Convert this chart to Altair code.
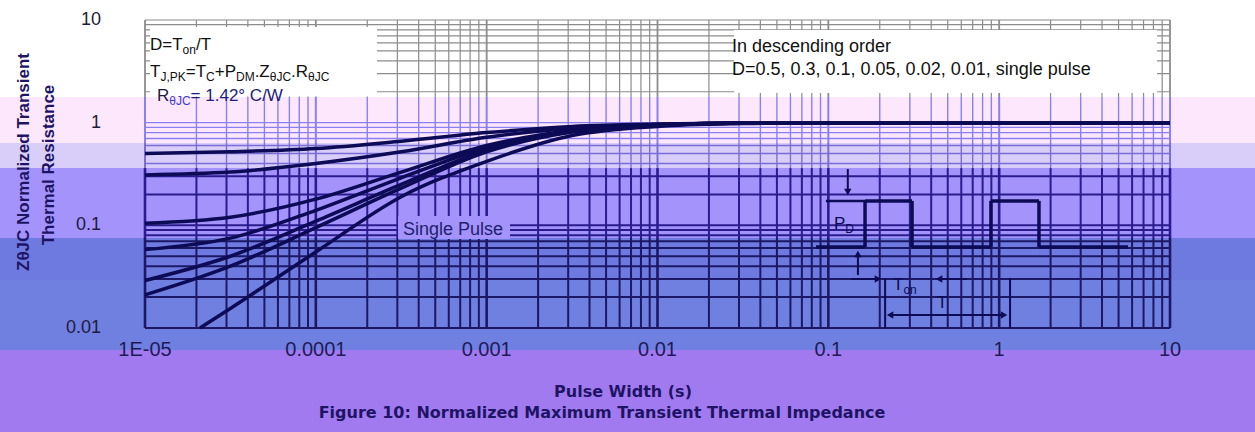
import math
import altair as alt
import pandas as pd

# ---------------- layout ----------------
W, H = 1025, 308
LEFT, TOP = 145, 20

# ---------------- axis ticks ----------------
X_TICKS = [1e-5, 1e-4, 1e-3, 1e-2, 1e-1, 1, 10]
X_TICK_LABELS = ["1E-05", "0.0001", "0.001", "0.01", "0.1", "1", "10"]
Y_TICKS = [0.01, 0.1, 1, 10]
Y_TICK_LABELS = ["0.01", "0.1", "1", "10"]

# ---------------- curves ----------------
PULSE_WIDTH = [1e-5, 3.16e-5, 1e-4, 3.16e-4, 1e-3, 3.16e-3, 1e-2, 3.16e-2, 0.1, 1, 10]
D_050 = [0.50, 0.52, 0.56, 0.66, 0.80, 0.92, 0.97, 0.99, 1.0, 1.0, 1.0]
D_030 = [0.31, 0.33, 0.40, 0.52, 0.72, 0.88, 0.96, 0.99, 1.0, 1.0, 1.0]
D_010 = [0.105, 0.12, 0.18, 0.33, 0.60, 0.84, 0.95, 0.99, 1.0, 1.0, 1.0]
D_005 = [0.058, 0.075, 0.14, 0.29, 0.57, 0.83, 0.95, 0.99, 1.0, 1.0, 1.0]
D_002 = [0.029, 0.05, 0.11, 0.25, 0.54, 0.82, 0.94, 0.99, 1.0, 1.0, 1.0]
D_001 = [0.021, 0.04, 0.095, 0.23, 0.52, 0.81, 0.94, 0.99, 1.0, 1.0, 1.0]
SINGLE_X = [2.1e-5, 3.16e-5, 1e-4, 3.16e-4, 1e-3, 3.16e-3, 1e-2, 3.16e-2, 0.1, 1, 10]
SINGLE = [0.01, 0.0155, 0.055, 0.19, 0.42, 0.75, 0.92, 0.98, 1.0, 1.0, 1.0]
SERIES = ["D=0.5", "D=0.3", "D=0.1", "D=0.05", "D=0.02", "D=0.01", "single pulse"]

# ---------------- background bands (y edges in data units) ----------------
BAND_TOP = [1.78, 0.634, 0.361, 0.0753, 0.0293, 0.00611]
BAND_BOTTOM = [0.634, 0.361, 0.0753, 0.0293, 0.00611, 0.0003]
BAND_COLORS = ["#FDE7FD", "#D9CEFA", "#A393FB", "#6E7ADF", "#7080E1", "#A27AEF"]

# grid colour per band inside the plot
GRID_EDGES = [10, 1.78, 0.634, 0.361, 0.0753, 0.0293, 0.01]
GRID_COLORS = ["#8c8c8c", "#8a80f0", "#7a6ed6", "#2a1c8e", "#1c1866", "#1c1866"]
GRID_WIDTHS = [1.2, 1.4, 1.4, 2.0, 2.0, 2.0]

NAVY = "#0d0b55"

# ---------------- build tables ----------------
rows = []
for name, xs, ys in zip(SERIES,
                        [PULSE_WIDTH] * 6 + [SINGLE_X],
                        [D_050, D_030, D_010, D_005, D_002, D_001, SINGLE]):
    for i, (xv, yv) in enumerate(zip(xs, ys)):
        rows.append({"series": name, "x": xv, "y": yv, "o": i})
curves = pd.DataFrame(rows)

bands = pd.DataFrame({"x1": 1e-7, "x2": 1e3, "y1": BAND_BOTTOM, "y2": BAND_TOP, "c": BAND_COLORS})

xg = [m * 10.0 ** k for k in range(-5, 1) for m in range(1, 10)] + [10.0]
yg = [m * 10.0 ** k for k in range(-2, 1) for m in range(1, 10)] + [10.0]

vrows = []
for xv in xg:
    major = abs(round(math.log10(xv)) - math.log10(xv)) < 1e-9
    for i in range(len(GRID_COLORS)):
        vrows.append({"x": xv, "y1": GRID_EDGES[i + 1], "y2": GRID_EDGES[i],
                      "c": GRID_COLORS[i], "w": GRID_WIDTHS[i] + (0.6 if major else 0)})
vgrid = pd.DataFrame(vrows)

hrows = []
for yv in yg:
    idx = 0
    for i in range(len(GRID_COLORS)):
        if GRID_EDGES[i + 1] <= yv <= GRID_EDGES[i]:
            idx = i
            break
    hrows.append({"y": yv, "x1": 1e-5, "x2": 10.0, "c": GRID_COLORS[idx], "w": GRID_WIDTHS[idx]})
hgrid = pd.DataFrame(hrows)

# white boxes behind the notes, and backing for the "Single Pulse" label
BOX_X1 = [1.07e-5, 0.0281, 3.03e-4]
BOX_X2 = [2.28e-4, 8.4, 1.37e-3]
BOX_Y1 = [1.8, 1.95, 0.0736]
BOX_Y2 = [8.55, 8.0, 0.123]
BOX_C = ["#ffffff", "#ffffff", "#A393FB"]
boxes = pd.DataFrame({"x1": BOX_X1, "x2": BOX_X2, "y1": BOX_Y1, "y2": BOX_Y2, "c": BOX_C})

# pulse diagram segments (data units)
SEG_X1 = [0.0968, 0.130, 0.164, 0.164, 0.309, 0.895, 0.895, 1.71, 0.0847, 0.309, 1.71,
          0.149, 0.136, 0.649, 0.215, 1.158, 0.23]
SEG_Y1 = [0.173, 0.354, 0.0615, 0.173, 0.173, 0.0615, 0.173, 0.173, 0.0615, 0.0615, 0.0615,
          0.0328, 0.030, 0.030, 0.0307, 0.0307, 0.0134]
SEG_X2 = [0.164, 0.130, 0.164, 0.309, 0.309, 0.895, 1.71, 1.71, 0.164, 0.895, 5.68,
          0.149, 0.19, 0.456, 0.215, 1.158, 1.067]
SEG_Y2 = [0.173, 0.221, 0.173, 0.173, 0.0615, 0.173, 0.173, 0.0615, 0.0615, 0.0615, 0.0615,
          0.050, 0.030, 0.030, 0.01, 0.01, 0.0134]
SEG_W = [2.5, 2, 3.5, 3.5, 3.5, 3.5, 3.5, 3.5, 3.5, 3.5, 3.5, 2, 2, 2, 2, 2, 2]
segs = pd.DataFrame({"x1": SEG_X1, "y1": SEG_Y1, "x2": SEG_X2, "y2": SEG_Y2, "w": SEG_W})

HEAD_X = [0.130, 0.149, 0.195, 0.445, 0.23, 1.067]
HEAD_Y = [0.211, 0.0526, 0.030, 0.030, 0.0134, 0.0134]
HEAD_SHAPE = ["triangle-down", "triangle-up", "triangle-right", "triangle-left",
              "triangle-left", "triangle-right"]
heads = pd.DataFrame({"x": HEAD_X, "y": HEAD_Y, "s": HEAD_SHAPE})

xlabels = pd.DataFrame({"v": X_TICKS, "t": X_TICK_LABELS})
ylabels = pd.DataFrame({"v": Y_TICKS, "t": Y_TICK_LABELS})

# ---------------- rich text (pixel annotations) ----------------
AW = {" ": 278, ".": 278, ",": 278, "/": 278, "=": 584, "+": 584, "\u00b0": 400,
      "C": 722, "D": 722, "J": 500, "K": 667, "M": 833, "P": 667, "R": 722, "T": 611,
      "W": 944, "Z": 611, "n": 556, "o": 556, "\u03b8": 556, "1": 556, "4": 556, "2": 556}


def tw(s, size):
    return sum(AW.get(ch, 556) for ch in s) * size / 1000.0


text_rows = []


def rich(pieces, x0, y0, size, sub, colors):
    x = x0
    for (s, is_sub), col in zip(pieces, colors):
        fs = sub if is_sub else size
        text_rows.append({"t": s, "px": x - LEFT, "py": y0 + (4 if is_sub else 0) - TOP,
                          "fs": fs, "c": col})
        x += tw(s, fs)


BLK = "#111111"
rich([("D=T", False), ("on", True), ("/T", False)], 150, 50, 17, 12, [BLK] * 3)
rich([("T", False), ("J,PK", True), ("=T", False), ("C", True), ("+P", False), ("DM", True),
      (".Z", False), ("\u03b8JC", True), (".R", False), ("\u03b8JC", True)], 150, 77, 17, 12,
     [BLK] * 10)
rich([("R", False), ("\u03b8JC", True), ("= 1.42\u00b0   C/W", False)], 157, 101, 17, 12,
     ["#1a1a40", "#3c3cd2", "#1e1e78"])
rich([("In descending order", False)], 732, 52, 18, 12, [BLK])
rich([("D=0.5, 0.3, 0.1, 0.05, 0.02, 0.01, single pulse", False)], 732, 75, 18, 12, [BLK])
rich([("Single Pulse", False)], 403, 235, 18, 12, ["#221e6e"])
rich([("P", False), ("D", True)], 834, 229, 17, 12, [NAVY, NAVY])
rich([("T", False), ("on", True)], 893, 290, 17, 12, [NAVY, NAVY])
rich([("T", False)], 937, 308, 17, 12, [NAVY])
texts = pd.DataFrame(text_rows)

TITLE_X = "Pulse Width (s)"
CAPTION = "Figure 10: Normalized Maximum Transient Thermal Impedance"
Y_TITLE = ["Z\u03b8JC Normalized Transient", "Thermal Resistance"]
bold_texts = pd.DataFrame({"t": [TITLE_X], "px": [623 - LEFT], "py": [397 - TOP]})
caption = pd.DataFrame({"t": [CAPTION], "px": [602 - LEFT], "py": [418 - TOP]})
ytitle = pd.DataFrame({"t": Y_TITLE, "px": [24 - LEFT, 49 - LEFT], "py": [162 - TOP, 165 - TOP]})

# ---------------- scales ----------------
XS = alt.Scale(type="log", domain=[1e-5, 10])
YS = alt.Scale(type="log", domain=[0.01, 10])

band_layer = alt.Chart(bands).mark_rect().encode(
    x=alt.X("x1:Q", scale=XS, axis=None), x2="x2",
    y=alt.Y("y1:Q", scale=YS, axis=None), y2="y2",
    color=alt.Color("c:N", scale=None))

vgrid_layer = alt.Chart(vgrid).mark_rule().encode(
    x=alt.X("x:Q", scale=XS, axis=None),
    y=alt.Y("y1:Q", scale=YS, axis=None), y2="y2",
    color=alt.Color("c:N", scale=None), size=alt.Size("w:Q", scale=None))

hgrid_layer = alt.Chart(hgrid).mark_rule().encode(
    y=alt.Y("y:Q", scale=YS, axis=None),
    x=alt.X("x1:Q", scale=XS, axis=None), x2="x2",
    color=alt.Color("c:N", scale=None), size=alt.Size("w:Q", scale=None))

box_layer = alt.Chart(boxes).mark_rect().encode(
    x=alt.X("x1:Q", scale=XS, axis=None), x2="x2",
    y=alt.Y("y1:Q", scale=YS, axis=None), y2="y2",
    color=alt.Color("c:N", scale=None))

curve_layer = alt.Chart(curves).mark_line(
    interpolate="monotone", strokeWidth=3.5, color=NAVY).encode(
    x=alt.X("x:Q", scale=XS, axis=None),
    y=alt.Y("y:Q", scale=YS, axis=None),
    detail="series:N", order="o:Q")

seg_layer = alt.Chart(segs).mark_rule(color=NAVY).encode(
    x=alt.X("x1:Q", scale=XS, axis=None), x2="x2",
    y=alt.Y("y1:Q", scale=YS, axis=None), y2="y2",
    size=alt.Size("w:Q", scale=None))

head_layer = alt.Chart(heads).mark_point(filled=True, opacity=1, color=NAVY, size=55).encode(
    x=alt.X("x:Q", scale=XS, axis=None),
    y=alt.Y("y:Q", scale=YS, axis=None),
    shape=alt.Shape("s:N", scale=None))

xlabel_layer = alt.Chart(xlabels).mark_text(
    align="center", baseline="alphabetic", font="Liberation Sans", fontSize=20,
    color="#1e1a5a").encode(
    x=alt.X("v:Q", scale=XS, axis=None), y=alt.value(H + 28), text="t:N")

ylabel_layer = alt.Chart(ylabels).mark_text(
    align="right", baseline="middle", font="Liberation Sans", fontSize=18,
    color="#1e1a40").encode(
    y=alt.Y("v:Q", scale=YS, axis=None), x=alt.value(-44), text="t:N")

text_layer = alt.Chart(texts).mark_text(
    align="left", baseline="alphabetic", font="Liberation Sans").encode(
    x=alt.X("px:Q", scale=None), y=alt.Y("py:Q", scale=None), text="t:N",
    size=alt.Size("fs:Q", scale=None), color=alt.Color("c:N", scale=None))

xtitle_layer = alt.Chart(bold_texts).mark_text(
    align="center", baseline="alphabetic", font="DejaVu Sans", fontWeight="bold",
    fontSize=16, color="#1e1466").encode(
    x=alt.X("px:Q", scale=None), y=alt.Y("py:Q", scale=None), text="t:N")

caption_layer = alt.Chart(caption).mark_text(
    align="center", baseline="alphabetic", font="DejaVu Sans", fontWeight="bold",
    fontSize=16, color="#1e1466").encode(
    x=alt.X("px:Q", scale=None), y=alt.Y("py:Q", scale=None), text="t:N")

ytitle_layer = alt.Chart(ytitle).mark_text(
    align="center", baseline="middle", font="Liberation Sans", fontWeight="bold",
    fontSize=17, angle=270, color="#1e1466").encode(
    x=alt.X("px:Q", scale=None), y=alt.Y("py:Q", scale=None), text="t:N")

chart = alt.layer(
    band_layer, vgrid_layer, hgrid_layer, box_layer, curve_layer,
    seg_layer, head_layer, xlabel_layer, ylabel_layer, text_layer,
    xtitle_layer, caption_layer, ytitle_layer
).properties(
    width=W, height=H,
    padding={"left": LEFT, "top": TOP, "right": 1255 - LEFT - W, "bottom": 432 - TOP - H},
    autosize=alt.AutoSizeParams(type="none"),
    background="white",
).configure_view(stroke=None)

chart.save("out.html", embed_options={"renderer": "svg", "actions": False})
